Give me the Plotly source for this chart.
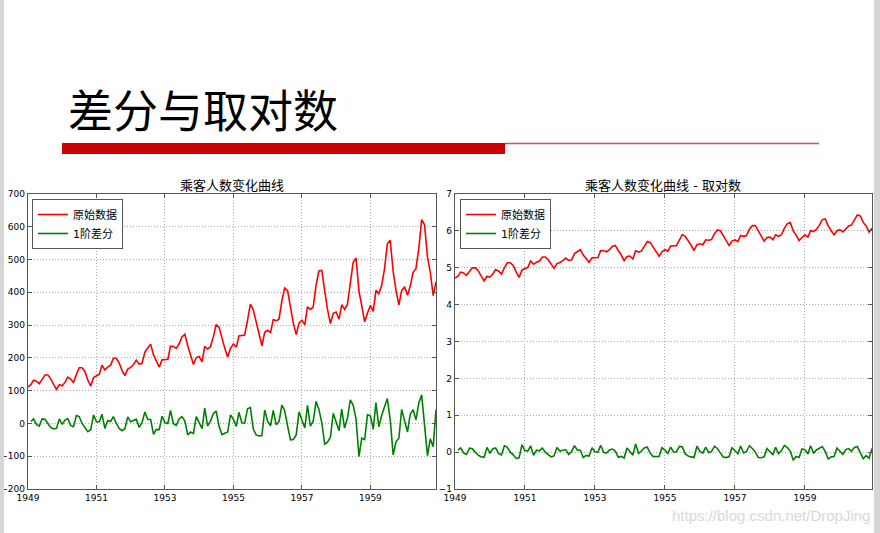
import numpy as np
import pandas as pd
import plotly.graph_objects as go

# Monthly airline passengers 1949-1960 (thousands)
passengers = [
    112, 118, 132, 129, 121, 135, 148, 148, 136, 119, 104, 118,
    115, 126, 141, 135, 125, 149, 170, 170, 158, 133, 114, 140,
    145, 150, 178, 163, 172, 178, 199, 199, 184, 162, 146, 166,
    171, 180, 193, 181, 183, 218, 230, 242, 209, 191, 172, 194,
    196, 196, 236, 235, 229, 243, 264, 272, 237, 211, 180, 201,
    204, 188, 235, 227, 234, 264, 302, 293, 259, 229, 203, 229,
    242, 233, 267, 269, 270, 315, 364, 347, 312, 274, 237, 278,
    284, 277, 317, 313, 318, 374, 413, 405, 355, 306, 271, 306,
    315, 301, 356, 348, 355, 422, 465, 467, 404, 347, 305, 336,
    340, 318, 362, 348, 363, 435, 491, 505, 404, 359, 310, 337,
    360, 342, 406, 396, 420, 472, 548, 559, 463, 407, 362, 405,
    417, 391, 419, 461, 472, 535, 622, 606, 508, 461, 390, 432,
]
months = pd.date_range("1949-01-01", periods=len(passengers), freq="MS")
tick_years = ["1949", "1951", "1953", "1955", "1957", "1959"]
series_names = ["原始数据", "1阶差分"]
titles = ["乘客人数变化曲线", "乘客人数变化曲线 - 取对数"]
slide_title = "差分与取对数"
watermark = "https://blog.csdn.net/DropJing"

raw = np.array(passengers, dtype=float)
raw_diff = np.diff(raw)
log_vals = np.log(raw)
log_diff = np.diff(log_vals)

W, H = 880, 533
def px(x):
    return x / W
def py(y):
    return (H - y) / H

RED = "#ff0000"
GREEN = "#008000"
FONT = "DejaVu Sans, Noto Sans CJK SC"

fig = go.Figure()
fig.add_trace(go.Scatter(x=months, y=raw, mode="lines", name=series_names[0],
                         line=dict(color=RED, width=1.6), xaxis="x", yaxis="y", legend="legend"))
fig.add_trace(go.Scatter(x=months[1:], y=raw_diff, mode="lines", name=series_names[1],
                         line=dict(color=GREEN, width=1.6), xaxis="x", yaxis="y", legend="legend"))
fig.add_trace(go.Scatter(x=months, y=log_vals, mode="lines", name=series_names[0],
                         line=dict(color=RED, width=1.6), xaxis="x2", yaxis="y2", legend="legend2"))
fig.add_trace(go.Scatter(x=months[1:], y=log_diff, mode="lines", name=series_names[1],
                         line=dict(color=GREEN, width=1.6), xaxis="x2", yaxis="y2", legend="legend2"))

tickvals = [f"{y}-01-01" for y in tick_years]
common_x = dict(
    range=[months[0], months[-1]], tickvals=tickvals, ticktext=tick_years,
    showgrid=True, gridcolor="#a8a8a8", griddash="1px,2px", gridwidth=1,
    showline=True, linecolor="#555555", linewidth=1.3, mirror="ticks",
    ticks="inside", ticklen=4, tickcolor="#555555",
    tickfont=dict(family="DejaVu Sans", size=9, color="#000"),
    zeroline=False, fixedrange=True, automargin=False,
)
common_y = dict(
    showgrid=True, gridcolor="#a8a8a8", griddash="1px,2px", gridwidth=1,
    showline=True, linecolor="#555555", linewidth=1.3, mirror="ticks",
    ticks="inside", ticklen=4, tickcolor="#555555",
    tickfont=dict(family="DejaVu Sans", size=9, color="#000"),
    zeroline=False, fixedrange=True, automargin=False,
)

ydom = [py(489), py(194)]
legend_style = dict(xanchor="left", yanchor="top",
                    bordercolor="#555555", borderwidth=1, bgcolor="white",
                    font=dict(family=FONT, size=11), itemwidth=30, tracegroupgap=0)
fig.update_layout(
    width=W, height=H,
    margin=dict(l=0, r=0, t=0, b=0, autoexpand=False),
    paper_bgcolor="white", plot_bgcolor="white",
    font=dict(family=FONT, color="#000"),
    xaxis=dict(domain=[px(28), px(436)], anchor="y", **common_x),
    yaxis=dict(domain=ydom, anchor="x", range=[-200, 700], dtick=100, **common_y),
    xaxis2=dict(domain=[px(455), px(872)], anchor="y2", **common_x),
    yaxis2=dict(domain=ydom, anchor="x2", range=[-1, 7], dtick=1, **common_y),
    legend=dict(x=px(32), y=py(199), **legend_style),
    legend2=dict(x=px(460), y=py(199), **legend_style),
    showlegend=True,
)

shapes = [
    dict(type="rect", xref="paper", yref="paper", x0=0, x1=px(4), y0=0, y1=1,
         fillcolor="#d6d6d6", line=dict(width=0), layer="above"),
    dict(type="rect", xref="paper", yref="paper", x0=px(874), x1=1, y0=0, y1=1,
         fillcolor="#d6d6d6", line=dict(width=0), layer="above"),
    dict(type="rect", xref="paper", yref="paper", x0=px(62), x1=px(505), y0=py(154), y1=py(143),
         fillcolor="#cc0000", line=dict(width=0)),
    dict(type="line", xref="paper", yref="paper", x0=px(505), x1=px(819), y0=py(143.5), y1=py(143.5),
         line=dict(color="#e04848", width=1.6)),
]
fig.update_layout(shapes=shapes)

annotations = [
    dict(text=slide_title, x=px(66), y=py(108), xref="paper", yref="paper",
         xanchor="left", yanchor="middle", showarrow=False,
         font=dict(family="Noto Sans CJK SC", size=45, color="#000")),
    dict(text=titles[0], x=px(232), y=py(185), xref="paper", yref="paper",
         xanchor="center", yanchor="middle", showarrow=False,
         font=dict(family=FONT, size=13, color="#000")),
    dict(text=titles[1], x=px(663), y=py(185), xref="paper", yref="paper",
         xanchor="center", yanchor="middle", showarrow=False,
         font=dict(family=FONT, size=13, color="#000")),
    dict(text=watermark, x=px(872), y=py(515), xref="paper", yref="paper",
         xanchor="right", yanchor="middle", showarrow=False,
         font=dict(family="Liberation Sans, Arial", size=15, color="#d8d8d8")),
]
fig.update_layout(annotations=annotations)

fig.write_html("out.html")
